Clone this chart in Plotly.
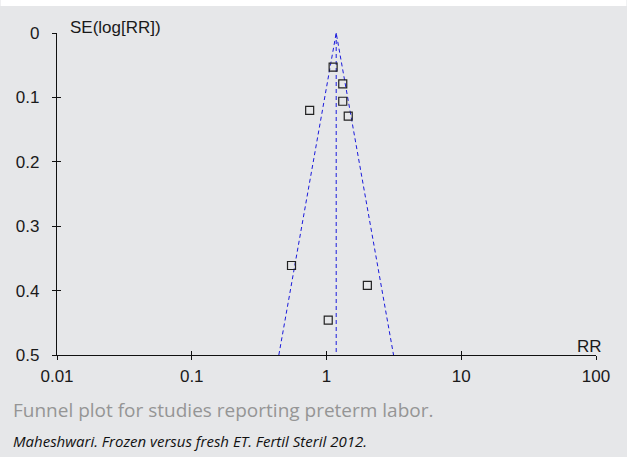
import math
import plotly.graph_objects as go

# Study estimates: relative risk and standard error of log(RR)
study_rr = [1.12, 1.32, 1.32, 1.45, 0.75, 0.55, 2.01, 1.03]
study_se = [0.053, 0.079, 0.106, 0.129, 0.120, 0.361, 0.392, 0.446]

# Pooled estimate and funnel extent
pooled_rr = 1.18
se_max = 0.5
z_crit = 1.96

x_tickvals = [0.01, 0.1, 1, 10, 100]
x_ticktext = ["0.01", "0.1", "1", "10", "100"]
y_tickvals = [0, 0.1, 0.2, 0.3, 0.4, 0.5]
y_ticktext = ["0", "0.1", "0.2", "0.3", "0.4", "0.5"]

W, H = 627, 457
ML, MR, MT, MB = 56.5, 30.5, 33, 102
PW, PH = W - ML - MR, H - MT - MB

BG = "#e6e7e9"
AXIS_FONT = dict(family="Liberation Sans, Arial, sans-serif", size=17, color="#1a1a1a")


def px_x(x):
    return (x - ML) / PW


def px_y(y):
    return (H - MB - y) / PH


lo_rr = pooled_rr * math.exp(-z_crit * se_max)
hi_rr = pooled_rr * math.exp(z_crit * se_max)

funnel_style = dict(color="#1a1adc", width=1, dash="4px,3px")

fig = go.Figure()
fig.add_trace(go.Scatter(x=[lo_rr, pooled_rr, hi_rr], y=[se_max, 0, se_max],
                         mode="lines", line=funnel_style, hoverinfo="skip"))
fig.add_trace(go.Scatter(x=[pooled_rr, pooled_rr], y=[0, se_max],
                         mode="lines", line=funnel_style, hoverinfo="skip"))
fig.add_trace(go.Scatter(x=study_rr, y=study_se, mode="markers",
                         marker=dict(symbol="square-open", size=8, color="#222222",
                                     line=dict(width=1.2, color="#222222"))))

# Invisible trace on the overlay axes so they render
fig.add_trace(go.Scatter(x=[1], y=[0], xaxis="x2", yaxis="y2", mode="markers",
                         marker=dict(opacity=0), hoverinfo="skip"))

xr = [math.log10(0.01), math.log10(100)]
fig.update_layout(
    width=W, height=H,
    margin=dict(l=ML, r=MR, t=MT, b=MB, pad=0),
    paper_bgcolor=BG, plot_bgcolor=BG,
    showlegend=False,
    font=AXIS_FONT,
    xaxis=dict(type="log", range=xr, tickvals=x_tickvals, ticktext=x_ticktext,
               ticks="outside", ticklen=4, tickwidth=1, tickcolor="#111111",
               showline=True, linecolor="#111111", linewidth=1.3,
               showgrid=False, zeroline=False, tickfont=AXIS_FONT,
               ticklabelstandoff=1),
    yaxis=dict(range=[se_max, 0], tickvals=y_tickvals, ticktext=y_ticktext,
               ticks="outside", ticklen=4, tickwidth=1, tickcolor="#111111",
               showline=True, linecolor="#111111", linewidth=1.3,
               showgrid=False, zeroline=False, tickfont=AXIS_FONT,
               ticklabelstandoff=9),
    xaxis2=dict(type="log", range=xr, overlaying="x", anchor="y",
                tickvals=x_tickvals, ticks="inside", ticklen=4, tickwidth=1,
                tickcolor="#111111", showticklabels=False, showline=False,
                showgrid=False, zeroline=False),
    yaxis2=dict(range=[se_max, 0], overlaying="y", anchor="x",
                tickvals=y_tickvals, ticks="inside", ticklen=4, tickwidth=1,
                tickcolor="#111111", showticklabels=False, showline=False,
                showgrid=False, zeroline=False),
)

# White strip along the top edge
fig.add_shape(type="rect", xref="paper", yref="paper", layer="below",
              x0=px_x(0), x1=px_x(W), y0=px_y(6), y1=px_y(0),
              fillcolor="white", line=dict(width=0))

fig.add_annotation(text="SE(log[RR])", xref="paper", yref="paper",
                   x=px_x(68), y=px_y(27), xanchor="left", yanchor="middle",
                   showarrow=False, font=AXIS_FONT)
fig.add_annotation(text="RR", xref="paper", yref="paper",
                   x=px_x(589.5), y=px_y(346), xanchor="center", yanchor="middle",
                   showarrow=False, font=AXIS_FONT)
fig.add_annotation(text="Funnel plot for studies reporting preterm labor.",
                   xref="paper", yref="paper", x=px_x(10), y=px_y(410),
                   xanchor="left", yanchor="middle", showarrow=False,
                   font=dict(family="Open Sans, sans-serif", size=19, color="#959595"))
fig.add_annotation(text="<i>Maheshwari. Frozen versus fresh ET. Fertil Steril 2012.</i>",
                   xref="paper", yref="paper", x=px_x(10), y=px_y(441),
                   xanchor="left", yanchor="middle", showarrow=False,
                   font=dict(family="Open Sans, sans-serif", size=15, color="#111111"))

fig.write_html("out.html")
